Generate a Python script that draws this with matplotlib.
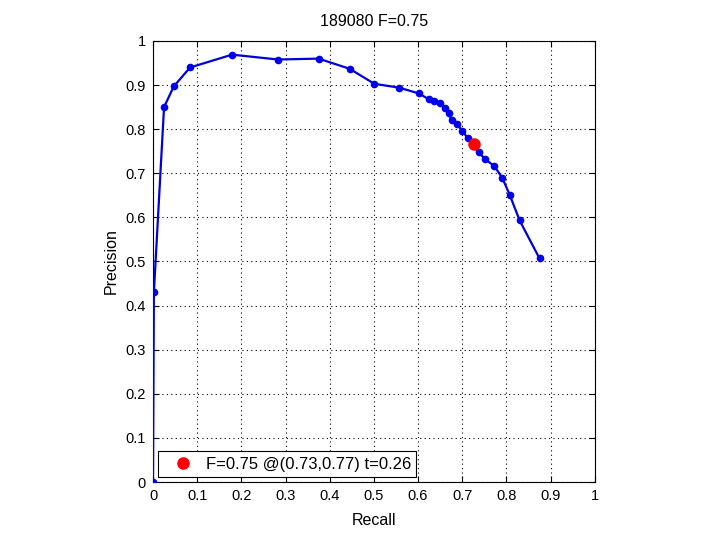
import matplotlib
matplotlib.use("Agg")
import matplotlib.pyplot as plt
import numpy as np

recall = [0.0, 0.002, 0.025, 0.047, 0.084, 0.179, 0.283, 0.375, 0.445, 0.501,
          0.558, 0.602, 0.624, 0.636, 0.650, 0.660, 0.669, 0.676, 0.689, 0.700,
          0.713, 0.737, 0.752, 0.773, 0.791, 0.808, 0.830, 0.875]
precision = [0.0, 0.430, 0.850, 0.897, 0.940, 0.969, 0.958, 0.960, 0.937, 0.903,
             0.894, 0.881, 0.868, 0.864, 0.859, 0.847, 0.836, 0.821, 0.811, 0.796,
             0.779, 0.748, 0.732, 0.716, 0.689, 0.650, 0.593, 0.507]
best_point_r = [0.726]
best_point_p = [0.766]
best_r, best_p, best_f, best_t = 0.73, 0.77, 0.75, 0.26
title = "189080 F=0.75"
ticks = [0, 0.1, 0.2, 0.3, 0.4, 0.5, 0.6, 0.7, 0.8, 0.9, 1]
tick_labels = ["0", "0.1", "0.2", "0.3", "0.4", "0.5", "0.6", "0.7", "0.8", "0.9", "1"]

plt.rcParams['font.family'] = ['Liberation Sans', 'DejaVu Sans']
fig = plt.figure(figsize=(7.2, 5.4), dpi=100)
ax = fig.add_axes([0.2125, 0.1074, 0.6135, 0.8167])
ax.plot(recall, precision, '-', color='#0000d8', lw=1.6, marker='o', ms=4.5,
        mfc='#0000ee', mec='#0000ee', zorder=3)
ax.plot(best_point_r, best_point_p, 'o', color='red', ms=8, zorder=4,
        label="F=%.2f @(%.2f,%.2f) t=%.2f" % (best_f, best_r, best_p, best_t))
ax.set_xlim(0, 1)
ax.set_ylim(0, 1)
ax.set_xticks(ticks)
ax.set_xticklabels(tick_labels)
ax.set_yticks(ticks)
ax.set_yticklabels(tick_labels)
ax.tick_params(direction='in', top=True, right=True, labelsize=10.5, length=4, width=0.8, pad=5)
ax.grid(True, linestyle=(0, (1, 3)), color='black', linewidth=0.8)
ax.set_axisbelow(True)
for s in ax.spines.values():
    s.set_linewidth(0.8)
ax.set_xlabel("Recall", fontsize=11.5, labelpad=7)
ax.set_ylabel("Precision", fontsize=11.5, labelpad=5)
ax.set_title(title, fontsize=11.5, pad=11)
leg = ax.legend(loc='lower left', fontsize=12, fancybox=False, framealpha=1,
                edgecolor='black', borderaxespad=0.3, handlelength=2.3,
                handletextpad=0.25, borderpad=0.32)
leg.get_frame().set_linewidth(0.8)
fig.savefig("out.png", dpi=100)
